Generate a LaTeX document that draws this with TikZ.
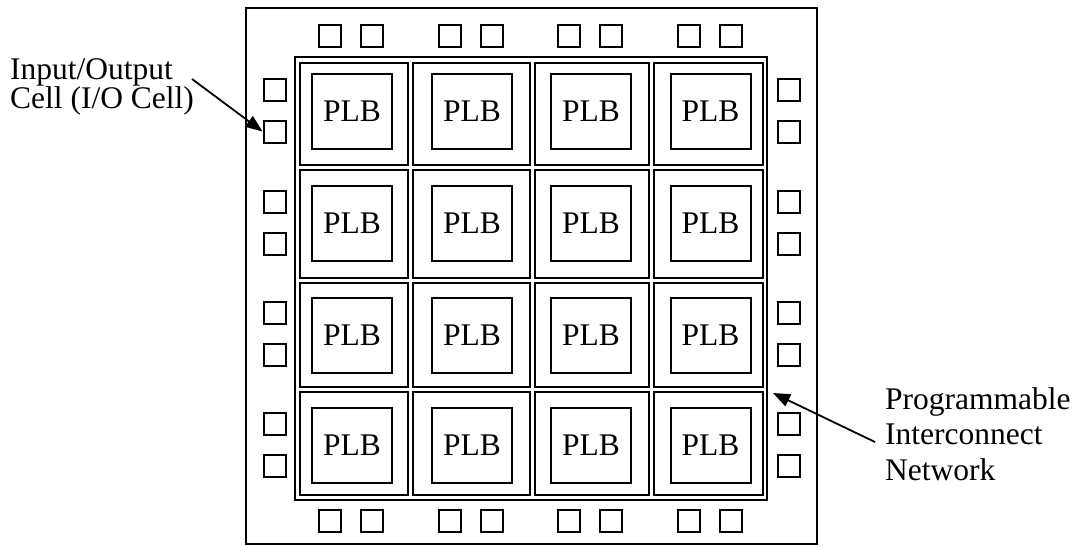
\documentclass[tikz,border=0pt]{standalone}
\usepackage{fontspec}
\setmainfont{Liberation Serif}
\usetikzlibrary{arrows.meta}
\begin{document}
\begin{tikzpicture}[x=1pt,y=-1pt,
  every node/.style={font=\fontsize{31.5}{31.5}\selectfont},
  frame/.style={line width=2.1pt},
  chipframe/.style={line width=1.8pt},
  iocell/.style={draw, line width=2pt, minimum width=22pt, minimum height=22pt, inner sep=0pt},
  plbbox/.style={draw, line width=2pt, minimum width=80pt, minimum height=75pt, inner sep=0pt},
  lbl/.style={anchor=base west, inner sep=0pt},
  pointer/.style={line width=1.8pt, -{Triangle[length=17pt,width=13pt]}}
]
\useasboundingbox (0,0) rectangle (1078,546);

% chip outline
\draw[chipframe] (246,8) rectangle (817,544);
% interconnect frame
\draw[frame] (295,57) rectangle (767,500);
% cells
\foreach \xa/\xb in {300/408, 413/530, 535/649, 654/763}
  \foreach \ya/\yb in {63/165, 170/278, 283/387, 392/495}
    \draw[frame] (\xa,\ya) rectangle (\xb,\yb);

% PLBs
\foreach \cx [count=\c] in {352,472,591,710.5}
  \foreach \cy [count=\r] in {111.5,223.5,335.5,445}
    \node[plbbox] (plb-\r-\c) at (\cx,\cy) {PLB};

% I/O cells top and bottom
\foreach \cx [count=\c] in {351,471,590,710} {
  \node[iocell] (io-t-\c-1) at ({\cx-21},36) {};
  \node[iocell] (io-t-\c-2) at ({\cx+21},36) {};
  \node[iocell] (io-b-\c-1) at ({\cx-21},520.5) {};
  \node[iocell] (io-b-\c-2) at ({\cx+21},520.5) {};
}
% I/O cells left and right
\foreach \cy [count=\r] in {110.5,222.5,333.5,445} {
  \node[iocell] (io-l-\r-1) at (274.5,{\cy-21}) {};
  \node[iocell] (io-l-\r-2) at (274.5,{\cy+21}) {};
  \node[iocell] (io-r-\r-1) at (788.5,{\cy-21}) {};
  \node[iocell] (io-r-\r-2) at (788.5,{\cy+21}) {};
}

% labels
\node[lbl] (lblio1) at (10,79) {Input/Output};
\node[lbl] (lblio2) at (10,108) {Cell (I/O Cell)};
\node[lbl] (lblnet1) at (885,409) {Programmable};
\node[lbl] (lblnet2) at (885,444) {Interconnect};
\node[lbl] (lblnet3) at (885,480) {Network};

% pointers
\coordinate (ioTail) at (192,79);
\draw[pointer] (ioTail) -- (io-l-1-2.west);
\coordinate (netTail) at (875,442);
\coordinate (netTip) at (773,393);
\draw[pointer] (netTail) -- (netTip);
\end{tikzpicture}
\end{document}
